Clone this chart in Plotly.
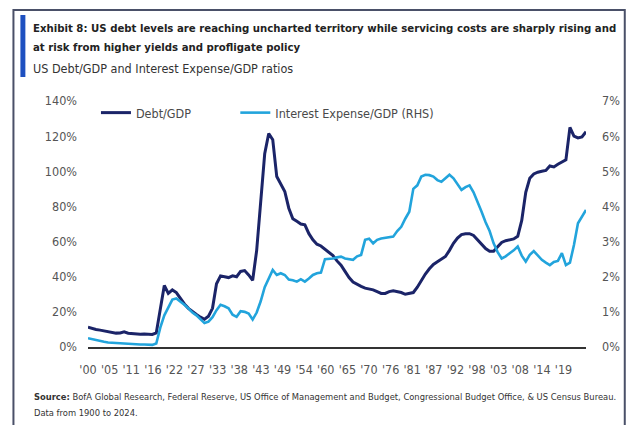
import plotly.graph_objects as go
import numpy as np

years = list(range(1900, 2025))

debt_gdp = [
    11.2, 10.5, 10.0, 9.6, 9.2, 8.8, 8.3, 7.9, 8.0, 8.6,
    7.8, 7.5, 7.3, 7.2, 7.4, 7.3, 7.1, 8.0, 22.0, 35.0,
    30.5, 32.5, 31.0, 27.5, 24.5, 22.0, 20.0, 18.5, 17.0, 15.8,
    17.5, 22.0, 36.0, 40.5, 40.0, 39.5, 40.5, 40.0, 43.0, 43.5,
    41.0, 38.0, 55.0, 85.0, 110.0, 121.5, 118.0, 97.0, 92.5, 88.5,
    79.0, 73.0, 71.5, 70.0, 69.5, 64.5, 61.0, 58.5, 57.5, 55.5,
    53.5, 52.0, 49.0, 46.5, 43.0, 39.5, 37.0, 35.5, 34.5, 33.5,
    33.0, 32.5, 31.5, 30.5, 30.5, 31.5, 32.0, 31.5, 31.0, 30.0,
    30.5, 31.0, 34.0, 38.0, 41.5, 44.5, 47.0, 48.5, 50.0, 51.5,
    55.0, 59.0, 62.0, 64.0, 64.5, 64.5, 63.5, 61.0, 58.5, 56.0,
    54.5, 54.5, 57.0, 59.5, 60.5, 61.0, 61.5, 63.0, 72.0, 88.0,
    96.0, 98.5, 99.5, 100.0, 100.5, 103.0, 102.5, 104.0, 105.5, 106.5,
    125.0, 120.0, 119.0, 119.5, 122.5,
]

interest_gdp = [
    0.25, 0.22, 0.19, 0.17, 0.15, 0.13, 0.12, 0.11, 0.10, 0.10,
    0.09, 0.08, 0.08, 0.07, 0.07, 0.07, 0.06, 0.10, 0.55, 0.90,
    1.15, 1.35, 1.38, 1.30, 1.20, 1.10, 0.98, 0.90, 0.80, 0.68,
    0.72, 0.85, 1.05, 1.20, 1.16, 1.10, 0.92, 0.86, 1.02, 1.00,
    0.95, 0.78, 0.98, 1.30, 1.70, 1.95, 2.19, 2.05, 2.10, 2.05,
    1.92, 1.90, 1.86, 1.93, 1.86, 1.95, 2.05, 2.10, 2.12, 2.50,
    2.50, 2.52, 2.55, 2.57, 2.52, 2.50, 2.48, 2.58, 2.62, 3.05,
    3.08, 2.95, 3.05, 3.09, 3.10, 3.12, 3.14, 3.30, 3.42, 3.65,
    3.85, 4.50, 4.60, 4.85, 4.90, 4.89, 4.85, 4.75, 4.70, 4.80,
    4.90, 4.80, 4.65, 4.47, 4.55, 4.60, 4.40, 4.15, 3.85, 3.55,
    3.30, 2.95, 2.70, 2.52, 2.58, 2.67, 2.75, 2.86, 2.60, 2.43,
    2.62, 2.73, 2.60, 2.48, 2.40, 2.33, 2.42, 2.45, 2.67, 2.33,
    2.40, 2.90, 3.52, 3.70, 3.90,
]

x_tick_labels = ["'00", "'05", "'11", "'16", "'22", "'27", "'33", "'38", "'43", "'49",
                 "'54", "'60", "'65", "'70", "'76", "'81", "'87", "'92", "'98", "'03",
                 "'08", "'14", "'19"]
left_ticks = [0, 20, 40, 60, 80, 100, 120, 140]
right_ticks = [0, 1, 2, 3, 4, 5, 6, 7]

title1 = "Exhibit 8: US debt levels are reaching uncharted territory while servicing costs are sharply rising and"
title2 = "at risk from higher yields and profligate policy"
subtitle = "US Debt/GDP and Interest Expense/GDP ratios"
source1 = "<b>Source:</b> BofA Global Research, Federal Reserve, US Office of Management and Budget, Congressional Budget Office, &amp; US Census Bureau."
source2 = "Data from 1900 to 2024."

FONT = "Liberation Sans Narrow, Arial Narrow, DejaVu Sans Condensed, Roboto Condensed, sans-serif"
DARK = "#1b2468"
LIGHT = "#22a4dc"

W, H = 632, 425
ML, MR, MT, MB = 88, 43, 101, 78
PW, PH = W - ML - MR, H - MT - MB

def px(X):
    return (X - ML) / PW

def py(Y):
    return (H - MB - Y) / PH

fig = go.Figure()
fig.add_trace(go.Scatter(x=years, y=debt_gdp, name="Debt/GDP" + "\u00a0" * 11, mode="lines",
                         line=dict(color=DARK, width=3), yaxis="y"))
fig.add_trace(go.Scatter(x=years, y=interest_gdp, name="Interest Expense/GDP (RHS)", mode="lines",
                         line=dict(color=LIGHT, width=2.6), yaxis="y2"))

tickvals = list(np.linspace(years[0], 2018.4, len(x_tick_labels)))

fig.update_layout(
    width=W, height=H,
    margin=dict(l=ML, r=MR, t=MT, b=MB),
    paper_bgcolor="white", plot_bgcolor="white",
    font=dict(family=FONT, color="#555555", size=12),
    showlegend=True,
    legend=dict(orientation="h", x=px(96), y=py(113), xanchor="left", yanchor="middle",
                font=dict(size=12.5, color="#4a4a4a"), bgcolor="rgba(0,0,0,0)",
                itemwidth=30, tracegroupgap=0),
    xaxis=dict(range=[years[0], years[-1]], tickmode="array", tickvals=tickvals, ticktext=x_tick_labels,
               showgrid=False, zeroline=False, showline=True, linecolor="#333333", linewidth=1.5,
               ticks="", ticklabelstandoff=10, tickfont=dict(size=12.5, color="#555555")),
    yaxis=dict(range=[0, 140], tickmode="array", tickvals=left_ticks,
               ticktext=[f"{v}%" for v in left_ticks], showgrid=False, zeroline=False,
               showline=False, ticks="", ticklabelstandoff=10, tickfont=dict(size=12.5, color="#555555")),
    yaxis2=dict(range=[0, 7], overlaying="y", side="right", tickmode="array", tickvals=right_ticks,
                ticktext=[f"{v}%" for v in right_ticks], showgrid=False, zeroline=False,
                showline=False, ticks="", ticklabelstandoff=15, tickfont=dict(size=12.5, color="#555555")),
)

# frame and accent bar
fig.add_shape(type="rect", xref="paper", yref="paper", x0=px(13), x1=px(628), y0=py(440), y1=py(10),
              line=dict(color="#4a5068", width=2), fillcolor="rgba(0,0,0,0)", layer="below")
fig.add_shape(type="rect", xref="paper", yref="paper", x0=px(20), x1=px(25), y0=py(77), y1=py(15),
              line=dict(width=0), fillcolor="#1e50c0", layer="above")

fig.add_annotation(text=f"<b>{title1}</b>", xref="paper", yref="paper", x=px(31), y=py(28),
                   xanchor="left", yanchor="middle", showarrow=False,
                   font=dict(size=11.3, color="#222222", family=FONT))
fig.add_annotation(text=f"<b>{title2}</b>", xref="paper", yref="paper", x=px(31), y=py(47),
                   xanchor="left", yanchor="middle", showarrow=False,
                   font=dict(size=11.3, color="#222222", family=FONT))
fig.add_annotation(text=subtitle, xref="paper", yref="paper", x=px(31), y=py(68),
                   xanchor="left", yanchor="middle", showarrow=False,
                   font=dict(size=12.5, color="#333333", family=FONT))
fig.add_annotation(text=source1, xref="paper", yref="paper", x=px(32), y=py(396),
                   xanchor="left", yanchor="middle", showarrow=False,
                   font=dict(size=9.3, color="#333333", family=FONT))
fig.add_annotation(text=source2, xref="paper", yref="paper", x=px(32), y=py(412),
                   xanchor="left", yanchor="middle", showarrow=False,
                   font=dict(size=9.3, color="#333333", family=FONT))

fig.write_html("out.html")
